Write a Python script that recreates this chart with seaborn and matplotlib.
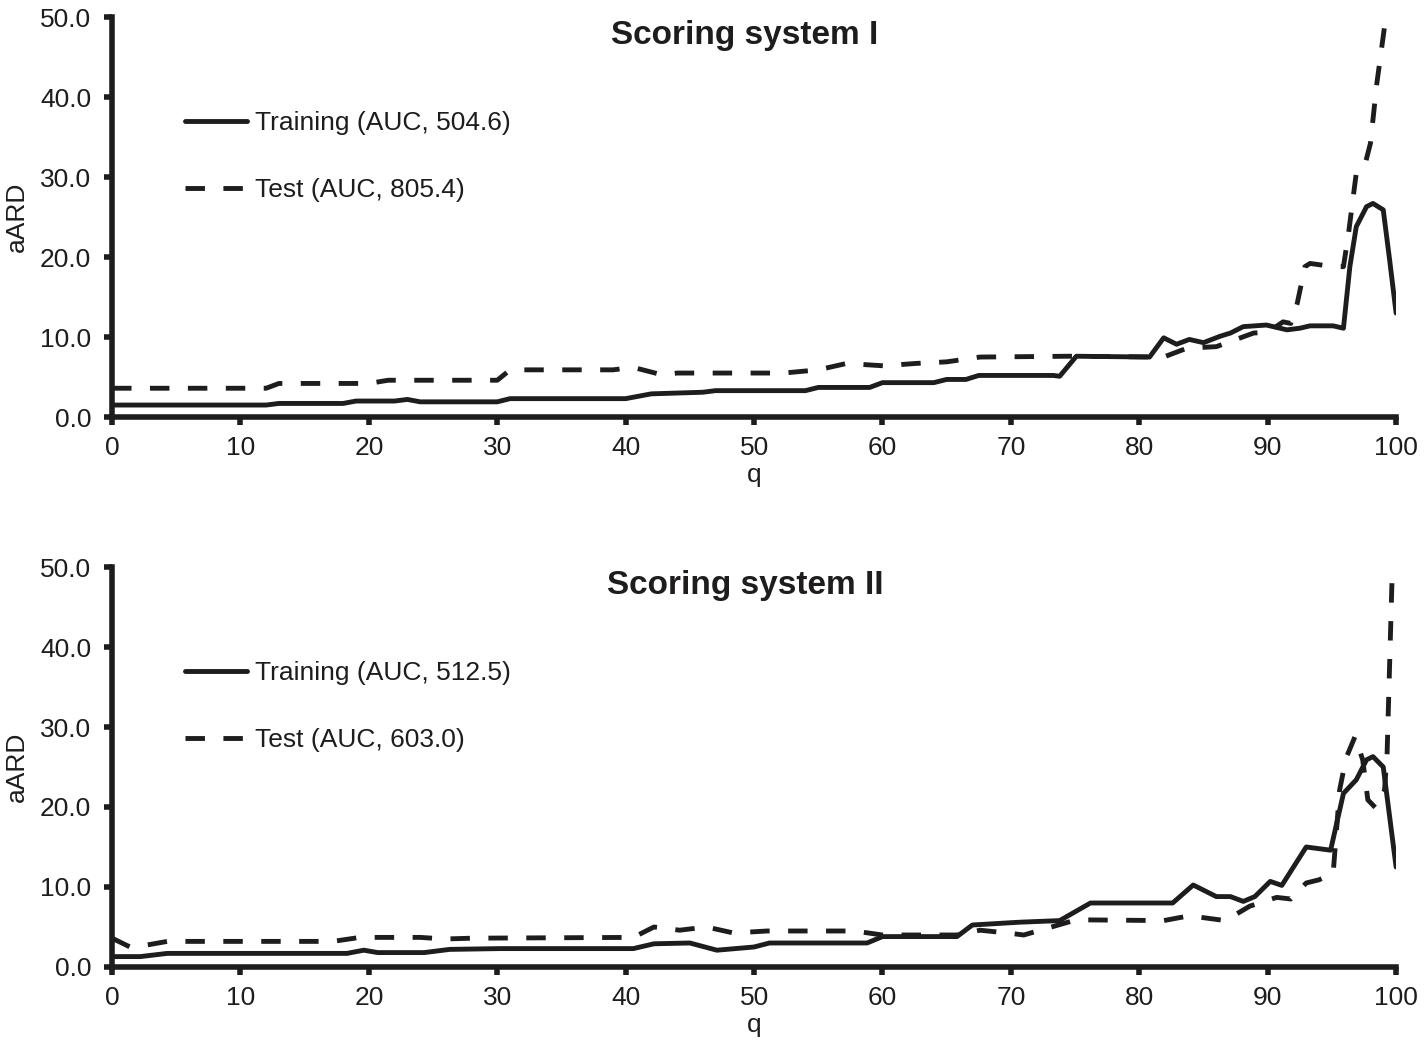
import matplotlib
matplotlib.use("Agg")
import matplotlib.pyplot as plt
import seaborn as sns

# Scoring system I - training
q_train_1 = [0, 12, 13, 18, 19, 22, 23, 24, 30, 31, 40, 41, 42, 46, 47, 54, 55, 59, 60, 64, 65,
             66.5, 67.5, 73.3, 73.8, 75.1, 80.8, 81.9, 82.9, 83.9, 85, 86.3, 87.1, 88.1, 89.9,
             91.5, 92.5, 93.3, 95.1, 95.9, 96.4, 96.9, 97.7, 98.2, 99, 99.5, 100]
aard_train_1 = [1.5, 1.5, 1.7, 1.7, 2.0, 2.0, 2.2, 1.9, 1.9, 2.3, 2.3, 2.6, 2.9, 3.1, 3.3, 3.3, 3.7,
                3.7, 4.3, 4.3, 4.7, 4.7, 5.2, 5.2, 5.1, 7.6, 7.5, 9.9, 9.1, 9.7, 9.3, 10.1, 10.5,
                11.3, 11.5, 10.9, 11.1, 11.4, 11.4, 11.1, 18.8, 23.8, 26.3, 26.7, 25.9, 19.6, 13.0]

# Scoring system I - test
q_test_1 = [0, 12, 13, 20, 21.5, 30, 31, 39, 40.6, 42.9, 44, 52.3, 55, 57.2, 60.1, 62.6, 65, 67.6,
            74.5, 81.9, 83.7, 86, 88.9, 90, 91.2, 91.8, 92.3, 92.9, 93.3, 95.1, 95.9, 96.3, 96.9,
            97.6, 98, 98.5, 99.1, 99.3]
aard_test_1 = [3.6, 3.6, 4.2, 4.2, 4.6, 4.6, 5.9, 5.9, 6.2, 5.25, 5.5, 5.5, 5.9, 6.7, 6.4, 6.7, 6.9,
               7.5, 7.6, 7.5, 8.6, 8.8, 10.5, 10.6, 11.9, 11.7, 14.2, 18.8, 19.2, 18.8, 18.8, 23.0,
               30.5, 31.7, 34.2, 41.7, 48.8, 49.6]

# Scoring system II - training
q_train_2 = [0, 2.2, 4.3, 18.3, 19.6, 20.7, 24.3, 26.3, 30.2, 40.6, 42.2, 45, 47.1, 50, 51.2, 58.8,
             60, 65.8, 67, 70.7, 73.8, 76.2, 82.6, 84.2, 86, 87.1, 88.1, 89, 90.2, 91.1, 93, 94.9,
             95.9, 96.9, 97.7, 98.2, 99, 100]
aard_train_2 = [1.3, 1.3, 1.7, 1.7, 2.1, 1.8, 1.8, 2.2, 2.3, 2.3, 2.9, 3.0, 2.1, 2.5, 3.0, 3.0, 3.8,
                3.8, 5.25, 5.6, 5.8, 8.0, 8.0, 10.25, 8.8, 8.8, 8.2, 8.8, 10.7, 10.2, 15.0, 14.6,
                21.7, 23.4, 25.9, 26.3, 25.0, 12.5]

# Scoring system II - test
q_test_2 = [0, 1.4, 2.2, 4.3, 17.2, 19.3, 24, 25.9, 28, 40.6, 42.2, 44.2, 46.3, 48.4, 51, 57.8, 60,
            65.8, 67.6, 70, 71, 75.1, 81.9, 83.9, 86.7, 88.6, 90.7, 91.8, 93, 94, 95.1, 95.6, 96.1,
            96.8, 97.4, 97.8, 98.4, 99.1, 99.3, 99.7]
aard_test_2 = [3.6, 2.5, 2.6, 3.2, 3.2, 3.7, 3.7, 3.5, 3.6, 3.7, 5.0, 4.6, 5.0, 4.25, 4.5, 4.5, 4.0,
               4.0, 4.6, 4.2, 4.0, 5.9, 5.8, 6.4, 5.8, 7.6, 8.7, 8.5, 10.5, 10.9, 11.7, 22.1, 26.1,
               28.8, 25.9, 20.9, 19.9, 22.1, 26.7, 49.4]

titles = ["Scoring system I", "Scoring system II"]
train_labels = ["Training (AUC, 504.6)", "Training (AUC, 512.5)"]
test_labels = ["Test (AUC, 805.4)", "Test (AUC, 603.0)"]
x_ticks = [0, 10, 20, 30, 40, 50, 60, 70, 80, 90, 100]
y_ticks = [0, 10, 20, 30, 40, 50]

sns.set_style("ticks")
plt.rcParams['font.family'] = ['Liberation Sans', 'DejaVu Sans']

ink = '#1e1c1d'
fig = plt.figure(figsize=(14.24, 10.4), dpi=100)
ax1 = fig.add_axes([0.0787, 0.599, 0.9017, 0.3846])
ax2 = fig.add_axes([0.0787, 0.0702, 0.9017, 0.3846])

panels = [
    (ax1, q_train_1, aard_train_1, q_test_1, aard_test_1),
    (ax2, q_train_2, aard_train_2, q_test_2, aard_test_2),
]

for i, (ax, qt, yt, qs, ys) in enumerate(panels):
    sns.lineplot(x=qt, y=yt, ax=ax, color=ink, linewidth=3.5, label=train_labels[i])
    sns.lineplot(x=qs, y=ys, ax=ax, color=ink, linewidth=3.5, linestyle=(0, (4.0, 3.8)),
                 label=test_labels[i])

    ax.set_xlim(0, 100)
    ax.set_ylim(0, 50)
    ax.set_xticks(x_ticks)
    ax.set_yticks(y_ticks)
    ax.set_yticklabels([f"{v:.1f}" for v in y_ticks])
    ax.tick_params(axis='both', labelsize=19, width=4, length=6, color=ink, labelcolor=ink)
    ax.tick_params(axis='y', pad=9)
    ax.tick_params(axis='x', pad=8)
    for side in ['top', 'right']:
        ax.spines[side].set_visible(False)
    for side in ['left', 'bottom']:
        ax.spines[side].set_linewidth(4)
        ax.spines[side].set_color(ink)

    ax.set_xlabel("q", fontsize=19, color=ink, labelpad=2)
    ax.set_ylabel("aARD", fontsize=19, color=ink, labelpad=8)
    ax.text(0.493, 0.955, titles[i], transform=ax.transAxes, ha='center', va='center',
            fontsize=24, fontweight='bold', color=ink)

    ax.legend(loc='upper left', bbox_to_anchor=(0.057, 0.765), frameon=False, fontsize=19,
              handlelength=2.35, handletextpad=0.3, labelspacing=1.62, borderpad=0,
              borderaxespad=0, labelcolor=ink)

fig.savefig("out.png", dpi=100)
